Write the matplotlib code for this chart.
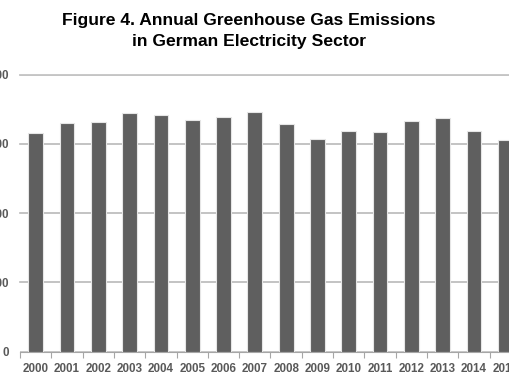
import matplotlib.pyplot as plt
import numpy as np

# Annual greenhouse gas emissions, German electricity sector
years = ["2000", "2001", "2002", "2003", "2004", "2005", "2006", "2007",
         "2008", "2009", "2010", "2011", "2012", "2013", "2014", "2015"]
emissions = [315, 330, 331, 345, 341, 335, 338, 346,
             329, 307, 318, 317, 333, 337, 318, 305]
yticks = [0, 100, 200, 300, 400]

plt.rcParams['font.family'] = ['Liberation Sans', 'DejaVu Sans']

fig = plt.figure(figsize=(5.1, 3.82), dpi=100)
# the source image is a crop, so the axes run past the left/right edges
ax = fig.add_axes([20 / 510, 30.3 / 382, 501 / 510, 277.2 / 382])

x = np.arange(len(years))
ax.bar(x, emissions, width=0.47, color='#5f5f5f', edgecolor='#e6e6e6',
       linewidth=0.8, zorder=3)

ax.set_xlim(-0.5, len(years) - 0.5)
ax.set_ylim(0, 400)
ax.set_yticks(yticks)
ax.set_yticklabels([str(v) for v in yticks])
ax.set_xticks(x)
ax.set_xticklabels(years)
ax.set_xticks(np.arange(len(years) + 1) - 0.5, minor=True)

ax.tick_params(axis='x', which='major', length=0, pad=8,
               labelsize=8.4, labelcolor='#595959')
ax.tick_params(axis='x', which='minor', length=4, width=0.8, color='#a6a6a6')
ax.tick_params(axis='y', length=0, pad=7.8, labelsize=8.4, labelcolor='#595959')
for lbl in ax.get_xticklabels() + ax.get_yticklabels():
    lbl.set_fontweight('bold')

ax.yaxis.grid(True, color='#c4c4c4', linewidth=1.3, zorder=0)
for v in yticks[1:]:
    ax.axhline(v, color='#c4c4c4', linewidth=1.3, zorder=0, clip_on=False)

for s in ['top', 'right', 'left']:
    ax.spines[s].set_visible(False)
ax.spines['bottom'].set_color('#a6a6a6')
ax.spines['bottom'].set_linewidth(0.8)

fig.text(0.488, 0.9346, "Figure 4. Annual Greenhouse Gas Emissions",
         ha='center', va='baseline', fontsize=12.6, fontweight='bold', color='black')
fig.text(0.488, 0.8804, "in German Electricity Sector",
         ha='center', va='baseline', fontsize=12.6, fontweight='bold', color='black')

fig.savefig("out.png", dpi=100)
